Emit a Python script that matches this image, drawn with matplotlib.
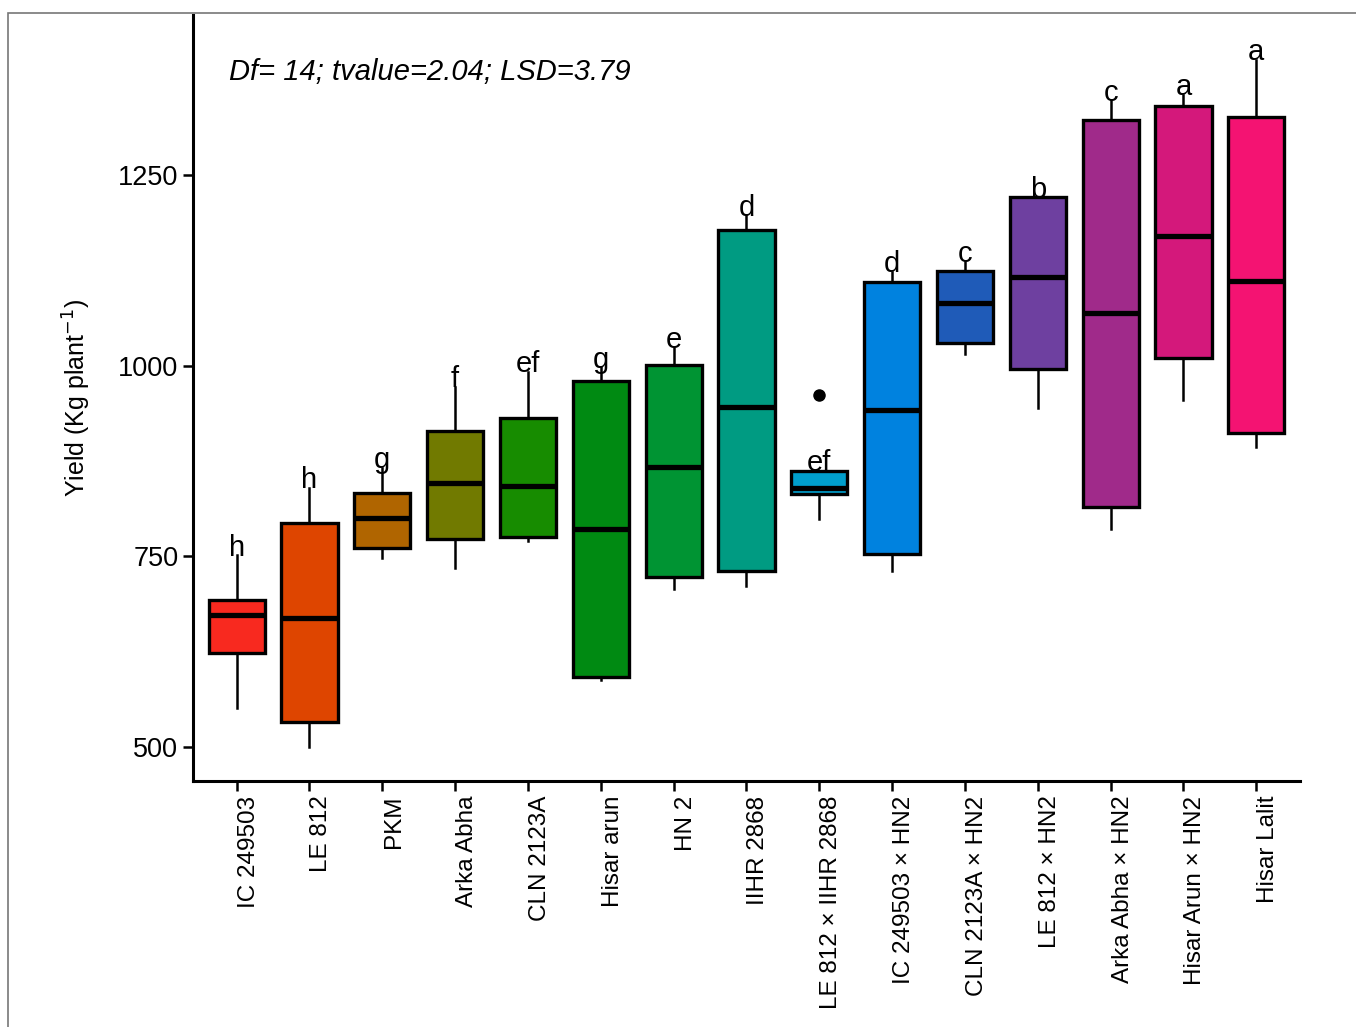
import matplotlib.pyplot as plt
import matplotlib.transforms as mtransforms
from matplotlib.patches import Rectangle

plt.rcParams["font.family"] = ["Liberation Sans", "DejaVu Sans"]

genotypes = ["IC 249503", "LE 812", "PKM", "Arka Abha", "CLN 2123A", "Hisar arun",
             "HN 2", "IIHR 2868", "LE 812 × IIHR 2868", "IC 249503 × HN2",
             "CLN 2123A × HN2", "LE 812 × HN2", "Arka Abha × HN2",
             "Hisar Arun × HN2", "Hisar Lalit"]

whisker_low = [551, 500, 748, 735, 770, 588, 707, 711, 799, 731, 1015, 945, 786, 955, 893]
q1 = [623, 533, 761, 773, 775, 591, 723, 730, 832, 753, 1030, 996, 815, 1010, 912]
median = [673, 669, 800, 846, 842, 785, 867, 946, 840, 942, 1082, 1116, 1069, 1170, 1111]
q3 = [693, 794, 833, 914, 931, 980, 1001, 1178, 862, 1110, 1124, 1221, 1322, 1340, 1326]
whisker_high = [751, 840, 866, 972, 992, 998, 1023, 1197, 862, 1123, 1136, 1221, 1348, 1355, 1401]
outliers = [[], [], [], [], [], [], [], [], [962], [], [], [], [], [], []]

letters = ["h", "h", "g", "f", "ef", "g", "e", "d", "ef", "d", "c", "b", "c", "a", "a"]

colors = ["#F8291F", "#DE4500", "#B06500", "#717A00", "#178C00", "#008A12",
          "#009433", "#009B82", "#009FCC", "#0082DF", "#1F5BB8", "#6E40A0",
          "#A02A8A", "#D4187B", "#F41372"]

stats = []
for i in range(len(genotypes)):
    stats.append({
        "whislo": whisker_low[i], "q1": q1[i], "med": median[i],
        "q3": q3[i], "whishi": whisker_high[i], "fliers": outliers[i],
    })

fig = plt.figure(figsize=(13.56, 10.27), dpi=100)
ax = fig.add_axes([0.1423, 0.2395, 0.8164, 0.7459])

positions = list(range(1, len(genotypes) + 1))
bp = ax.bxp(stats, positions=positions, widths=0.77, showcaps=False,
            patch_artist=True,
            boxprops=dict(linewidth=2.4, edgecolor="black"),
            whiskerprops=dict(linewidth=1.8, color="black"),
            medianprops=dict(linewidth=3.8, color="black"),
            flierprops=dict(marker="o", markerfacecolor="black",
                            markeredgecolor="black", markersize=8))
for patch, c in zip(bp["boxes"], colors):
    patch.set_facecolor(c)

for x, top, lab in zip(positions, whisker_high, letters):
    ax.text(x, top + 10, lab, ha="center", va="center", fontsize=21)

ax.text(0.033, 0.926, "Df= 14; tvalue=2.04; LSD=3.79", transform=ax.transAxes,
        fontsize=21, style="italic", ha="left", va="center")

ax.set_xlim(0.4, 15.6)
ax.set_ylim(455, 1460)
ax.set_yticks([500, 750, 1000, 1250])
ax.set_xticks(positions)
ax.set_xticklabels(genotypes, rotation=90, fontsize=17.5)
ax.tick_params(axis="y", labelsize=19.5, length=7, width=1.8)
ax.tick_params(axis="x", length=7, width=1.8)
ax.set_ylabel("Yield (Kg plant$^{-1}$)", fontsize=18, labelpad=18)

# labels sit a little to the right of their ticks, as in the original
shift = mtransforms.ScaledTranslation(12 / 100, 0, fig.dpi_scale_trans)
for lbl in ax.get_xticklabels():
    lbl.set_transform(lbl.get_transform() + shift)

for side in ["top", "right"]:
    ax.spines[side].set_visible(False)
for side in ["left", "bottom"]:
    ax.spines[side].set_linewidth(2.2)

# thin frame around the picture
fig.patches.append(Rectangle((8 / 1356, -0.1), 1.2, 1 - 13 / 1027 + 0.1,
                             transform=fig.transFigure, fill=False,
                             edgecolor="#777777", linewidth=1.2))

fig.savefig("out.png", dpi=100)
